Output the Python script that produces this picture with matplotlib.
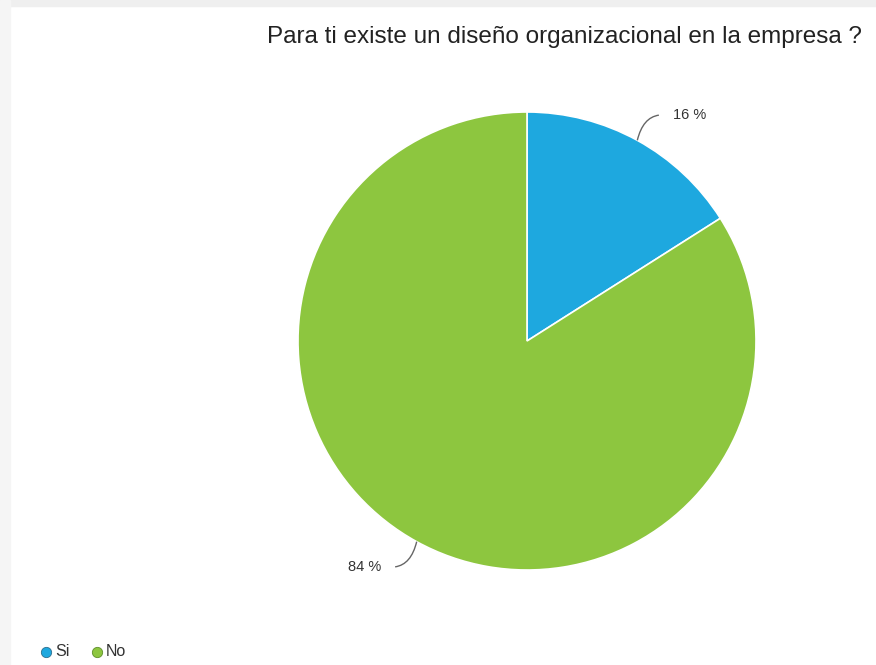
import numpy as np
import matplotlib.pyplot as plt
from matplotlib.patches import Rectangle, PathPatch
from matplotlib.path import Path

# respuestas de la encuesta
labels = ["Si", "No"]
values = [16, 84]
colors = ["#1ea8df", "#8dc63f"]
title = "Para ti existe un diseño organizacional en la empresa ?"

plt.rcParams['font.family'] = ['Liberation Sans', 'DejaVu Sans']

W, H = 876, 665
fig = plt.figure(figsize=(W / 100, H / 100), dpi=100)
fig.patch.set_facecolor("white")

# marco gris claro arriba y a la izquierda
fig.patches.append(Rectangle((0, 1 - 6 / H), 1, 6 / H, transform=fig.transFigure,
                             color="#efefef", zorder=0))
fig.patches.append(Rectangle((0, 0), 10 / W, 1, transform=fig.transFigure,
                             color="#f5f5f5", zorder=0))

# pastel: centro (527, 341), radio 229 px
cx, cy, r = 527, 341, 229
ax = fig.add_axes([(cx - r) / W, (H - cy - r) / H, 2 * r / W, 2 * r / H])
wedges, _ = ax.pie(values, colors=colors, startangle=90, counterclock=False,
                   wedgeprops=dict(edgecolor="white", linewidth=1.2))
ax.set_xlim(-1, 1)
ax.set_ylim(-1, 1)
ax.set_aspect("auto")
ax.axis("off")

# etiquetas con linea guia curva
total = sum(values)
start = 90.0
for v in values:
    mid = np.deg2rad(start - v / total * 360 / 2)
    start -= v / total * 360
    x0, y0 = np.cos(mid), np.sin(mid)
    sy = np.sign(y0)
    side = np.sign(x0)
    x1, y1 = 1.05 * x0, y0 + 0.1 * sy
    x2, y2 = x1 + side * 0.07, y1 + 0.01 * sy
    path = Path([(x0, y0), (x1, y1), (x2, y2)], [Path.MOVETO, Path.CURVE3, Path.CURVE3])
    ax.add_patch(PathPatch(path, fill=False, edgecolor="#666666", lw=1, clip_on=False))
    ax.text(x2 + side * 0.06, y2, f"{v} %", ha="left" if side > 0 else "right",
            va="center", fontsize=10.5, color="#333333", clip_on=False)

fig.text(862 / W, 1 - 37 / H, title, ha="right", va="center",
         fontsize=17.5, color="#222222")

# leyenda
lax = fig.add_axes([0, 0, 1, 1], facecolor="none")
lax.set_xlim(0, W)
lax.set_ylim(H, 0)
lax.axis("off")
for i, (lab, c) in enumerate(zip(labels, colors)):
    x = 46 + i * 51
    lax.scatter([x], [652], s=55, color=c, edgecolors="#2a6f8f" if i == 0 else "#5e8f2a",
                linewidths=0.6)
    lax.text(x + 9, 652, lab, ha="left", va="center", fontsize=11.5, color="#333333")

fig.savefig("out.png", dpi=100)
